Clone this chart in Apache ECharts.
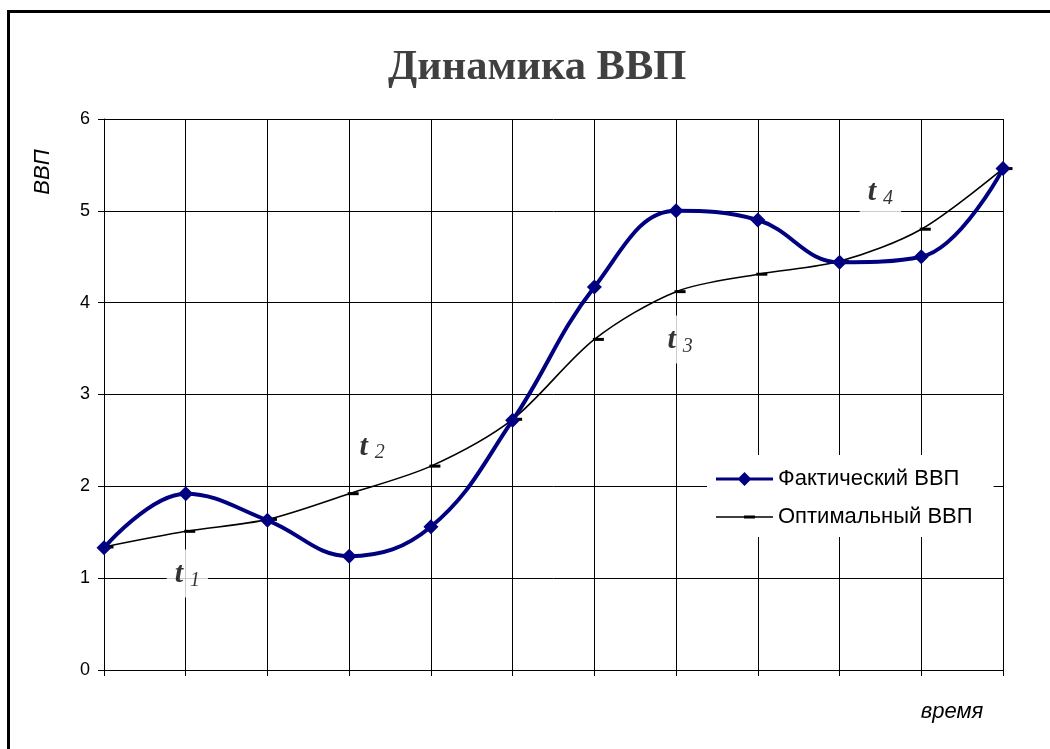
<!DOCTYPE html>
<html>
<head>
<meta charset="utf-8">
<script src="https://cdn.jsdelivr.net/npm/echarts@6/dist/echarts.min.js"></script>
<style>
html,body{margin:0;padding:0;background:#fff;}
#chart{width:1050px;height:749px;}
</style>
</head>
<body>
<div id="chart"></div>
<script>
// Periods along the time axis (unlabelled ticks)
const periods = ['1','2','3','4','5','6','7','8','9','10','11','12'];
// Actual GDP
const actualGdp = [1.33, 1.92, 1.63, 1.24, 1.56, 2.72, 4.17, 5.00, 4.90, 4.44, 4.50, 5.46];
// Optimal GDP
const optimalGdp = [1.34, 1.51, 1.64, 1.92, 2.22, 2.73, 3.60, 4.12, 4.31, 4.45, 4.80, 5.46];
// Phase marks t1..t4: [position along periods (0-based), value, subscript]
const phaseLabels = [
  [1.02, 1.05, '1'],
  [3.28, 2.44, '2'],
  [7.05, 3.60, '3'],
  [9.50, 5.21, '4']
];
const seriesNames = ['Фактический ВВП', 'Оптимальный ВВП'];

const chart = echarts.init(document.getElementById('chart'));

const labelData = phaseLabels.map(p => ({
  value: [p[0], p[1]],
  label: { formatter: '{t|t}{n|' + p[2] + '}' }
}));

// legend glyphs: line with a diamond, line with a short dash
const iconDiamond = 'path://M0,5.5h57v3h-57z M28.5,0 L35.5,7 L28.5,14 L21.5,7z';
const iconDash = 'path://M0,0h0.01v0.01h-0.01z M0,6.3h57v1.4h-57z M28,5.5h11v3h-11z M56.99,13.99h0.01v0.01h-0.01z';

chart.setOption({
  animation: false,
  backgroundColor: '#fff',
  title: {
    text: 'Динамика ВВП',
    left: 383,
    top: 42,
    textStyle: {
      fontFamily: 'Liberation Serif',
      fontWeight: 'bold',
      fontSize: 42.5,
      color: '#404040'
    }
  },
  grid: { left: 104, right: 47, top: 119, bottom: 79 },
  legend: {
    orient: 'vertical',
    left: 707,
    top: 455,
    itemWidth: 57,
    itemHeight: 14,
    itemGap: 16,
    backgroundColor: '#fff',
    padding: [13, 21, 9, 9],
    textStyle: { fontFamily: 'Liberation Sans', fontSize: 22, color: '#000' },
    data: [
      { name: seriesNames[0], icon: iconDiamond },
      { name: seriesNames[1], icon: iconDash }
    ]
  },
  xAxis: [
    {
      type: 'category',
      data: periods,
      boundaryGap: false,
      axisLine: { lineStyle: { color: '#000', width: 1 } },
      axisTick: { show: true, length: 6, lineStyle: { color: '#000' } },
      axisLabel: { show: false },
      splitLine: { show: true, lineStyle: { color: '#000', width: 1 } }
    },
    {
      // continuous companion axis used to place the phase marks between periods
      type: 'value',
      min: 0,
      max: 11,
      show: false
    }
  ],
  yAxis: {
    type: 'value',
    min: 0,
    max: 6,
    interval: 1,
    axisLine: { show: true, lineStyle: { color: '#000', width: 1 } },
    axisTick: { show: true, length: 6, lineStyle: { color: '#000' } },
    axisLabel: { fontFamily: 'Liberation Sans', fontSize: 18, color: '#000', margin: 14 },
    splitLine: { show: true, lineStyle: { color: '#000', width: 1 } }
  },
  series: [
    {
      // white-backed phase marks sit over the grid lines
      name: 'phases',
      type: 'scatter',
      xAxisIndex: 1,
      symbolSize: 0,
      z: 1,
      silent: true,
      data: labelData,
      label: {
        show: true,
        position: 'inside',
        backgroundColor: '#fff',
        padding: [9, 8, 7, 8],
        rich: {
          t: { fontFamily: 'Liberation Serif', fontStyle: 'italic', fontWeight: 'bold', fontSize: 30, color: '#000' },
          n: { fontFamily: 'Liberation Serif', fontStyle: 'italic', fontSize: 20, color: '#000', verticalAlign: 'bottom', padding: [12, 0, 0, 7] }
        }
      }
    },
    {
      name: seriesNames[1],
      type: 'line',
      data: optimalGdp,
      smooth: 0.3,
      z: 3,
      symbol: 'rect',
      symbolSize: [11, 3],
      symbolOffset: [4, 0],
      showAllSymbol: true,
      lineStyle: { color: '#000', width: 1.6 },
      itemStyle: { color: '#000' }
    },
    {
      name: seriesNames[0],
      type: 'line',
      data: actualGdp,
      smooth: 0.4,
      z: 4,
      symbol: 'diamond',
      symbolSize: 15,
      showAllSymbol: true,
      lineStyle: { color: '#000080', width: 4 },
      itemStyle: { color: '#000080' }
    }
  ],
  graphic: [
    {
      type: 'text',
      x: 43,
      y: 172,
      rotation: Math.PI / 2,
      style: {
        text: 'ВВП',
        font: 'italic 22px "Liberation Sans"',
        fill: '#000',
        align: 'center',
        verticalAlign: 'middle'
      }
    },
    {
      type: 'text',
      x: 952,
      y: 712,
      style: {
        text: 'время',
        font: 'italic 22px "Liberation Sans"',
        fill: '#000',
        align: 'center',
        verticalAlign: 'middle'
      }
    },
    {
      type: 'polyline',
      shape: { points: [[8.5, 760], [8.5, 11.5], [1060, 11.5]] },
      style: { stroke: '#000', lineWidth: 3, fill: null },
      z: 100
    }
  ]
});
</script>
</body>
</html>
